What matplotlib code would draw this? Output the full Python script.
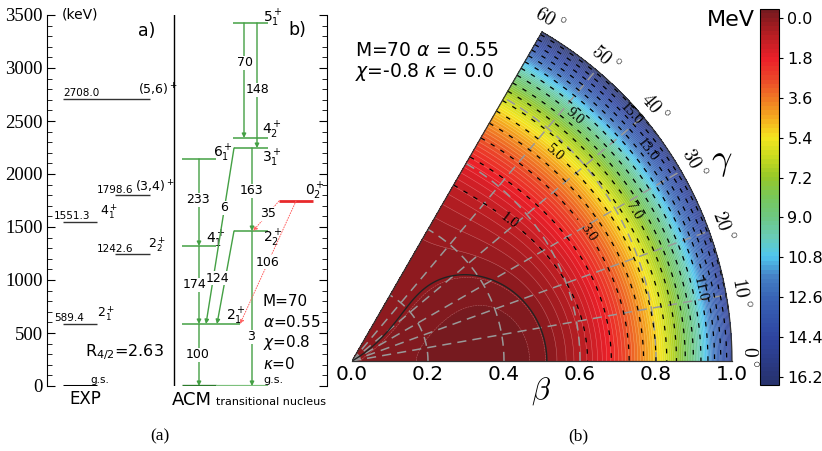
import numpy as np
import matplotlib
matplotlib.use("Agg")
import matplotlib.pyplot as plt
from matplotlib.colors import LinearSegmentedColormap

# ---- (a) level scheme data (keV) ----
exp_energy = [0.0, 589.4, 1242.6, 1551.3, 1798.6, 2708.0]
exp_spin = ["g.s.", r"$2_1^+$", r"$2_2^+$", r"$4_1^+$", r"(3,4)$^+$", r"(5,6)$^+$"]
exp_r42 = 2.63

acm_state = ["gs", "2_1", "4_1", "2_2", "0_2", "6_1", "3_1", "4_2", "5_1"]
acm_energy = [0, 585, 1321, 1462, 1745, 2142, 2245, 2340, 3425]

tr_from = ["5_1", "5_1", "3_1", "2_2", "6_1", "4_1", "2_1", "3_1", "2_2", "0_2", "0_2"]
tr_to = ["4_2", "3_1", "2_2", "gs", "4_1", "2_1", "gs", "2_1", "2_1", "2_2", "2_1"]
tr_be2 = [70, 148, 163, 3, 233, 174, 100, 6, 124, 35, 106]

# ---- (b) ACM potential parameters ----
M, ALPHA, CHI, KAPPA = 70, 0.55, -0.8, 0.0
label_levels = [1, 3, 5, 7, 9, 11, 13, 15]
plain_levels = [2, 4, 6, 8, 10, 12, 14, 16]
cbar_ticks = [0.0, 1.8, 3.6, 5.4, 7.2, 9.0, 10.8, 12.6, 14.4, 16.2]

W, H = 822, 451
fig = plt.figure(figsize=(W / 100, H / 100), dpi=100)


def px_axes(x0, y0, x1, y1):
    return fig.add_axes([x0 / W, 1 - y1 / H, (x1 - x0) / W, (y1 - y0) / H])


def ftext(px, py, s, **kw):
    return fig.text(px / W, 1 - py / H, s, **kw)


GREEN = "#44a044"
RED = "#e8292b"
SERIF = "Liberation Serif"

# ================= panel (a) =================
axa = px_axes(47, 15, 327, 386)
axa.set_xlim(47, 327)
axa.set_ylim(0, 3500)
axa.patch.set_alpha(0)
for s in ("top", "bottom"):
    axa.spines[s].set_visible(False)
axa.set_xticks([])
axa.set_yticks(np.arange(0, 3501, 500))
axa.set_yticks(np.arange(0, 3501, 100), minor=True)
axa.tick_params(axis="y", which="both", direction="in", left=True, right=True, pad=3)
axa.tick_params(axis="y", which="major", length=6)
axa.tick_params(axis="y", which="minor", length=3.5)
for t in axa.get_yticklabels():
    t.set_fontfamily(SERIF)
    t.set_fontsize(13.5)


def ey(py):  # pixel row -> keV
    return (386 - py) * 3500 / 371


axa.plot([174, 174], [0, 3500], color="k", lw=1)

# EXP levels
exp_span = [(63, 97), (63, 97), (115, 150), (63, 97), (115, 150), (63, 150)]
exp_ex = [None, 54, 97, 54, 97, 63]
exp_sx = [90, 97, 148, 100, 135, 138]
for E, sp, (x0, x1), ex, sx in zip(exp_energy, exp_spin, exp_span, exp_ex, exp_sx):
    axa.plot([x0, x1], [E, E], color="k" if E == 0 else "#333333",
             lw=2.2 if E == 0 else 1.0, solid_capstyle="butt")
    if ex is not None:
        axa.text(ex, E + 5, f"{E:.1f}", fontsize=7.5, ha="left", va="bottom")
    axa.text(sx, E + 5, sp, fontsize=7.5 if E == 0 else 9, ha="left", va="bottom")
axa.text(85, ey(352), r"R$_{4/2}$=%.2f" % exp_r42, fontsize=11.5, va="center")
axa.text(62, ey(15), "(keV)", fontsize=10, va="center")
axa.text(138, ey(31), "a)", fontsize=12.5, va="center")
axa.text(288, ey(30), "b)", fontsize=12.5, va="center")
axa.text(85, ey(399), "EXP", fontsize=12, ha="center", va="center")
axa.text(172, ey(405), "ACM", fontsize=13, ha="left", va="baseline")
axa.text(216, ey(405), "transitional nucleus", fontsize=8, ha="left", va="baseline")
for k, s in enumerate(["M=70", r"$\alpha$=0.55", r"$\chi$=0.8", r"$\kappa$=0"]):
    axa.text(263, ey(301 + 21 * k), s, fontsize=11, va="center")

# ACM levels
lev = dict(zip(acm_state, acm_energy))
acm_span = {"gs": (182, 268), "2_1": (182, 240), "4_1": (182, 216), "2_2": (234, 268),
            "0_2": (279, 313), "6_1": (182, 216), "3_1": (234, 268), "4_2": (233, 268),
            "5_1": (233, 268)}
acm_lab = {"gs": (263, 380), "2_1": (226, 316), "4_1": (206, 239), "2_2": (263, 238),
           "0_2": (305, 191), "6_1": (213, 153), "3_1": (262, 158), "4_2": (262, 130),
           "5_1": (263, 18)}
for st in acm_state:
    E = lev[st]
    x0, x1 = acm_span[st]
    if st == "0_2":
        axa.plot([x0, x1], [E, E], color=RED, lw=2, solid_capstyle="butt")
    elif st == "gs":
        axa.plot([x0, 216], [E, E], color="#2a7a2a", lw=2.4, solid_capstyle="butt")
        axa.plot([216, x1], [E, E], color="#7cc07c", lw=1.6, solid_capstyle="butt")
    else:
        axa.plot([x0, x1], [E, E], color=GREEN, lw=1.1, solid_capstyle="butt")
    lx, ly = acm_lab[st]
    if st == "gs":
        axa.text(lx, ey(ly), "g.s.", fontsize=8, va="center")
    else:
        j, n = st.split("_")
        axa.text(lx, ey(ly), r"$%s_%s^+$" % (j, n), fontsize=10, va="center")

# transitions: x at start, x at end, label position (pixels)
tr_geom = [(244, 244, 245, 63), (257, 257, 258, 90), (252, 252, 251, 191),
           (252, 252, 251, 337), (199, 199, 198, 200), (199, 199, 195, 285),
           (199, 199, 198, 355), (234, 206, 224, 208), (234, 217, 217, 278),
           (279, 253, 268, 214), (296, 240, 268, 262)]
for a, b, v, (xs, xe, lx, ly) in zip(tr_from, tr_to, tr_be2, tr_geom):
    red = a == "0_2"
    col = "#ff6060" if red else GREEN
    axa.annotate("", xy=(xe, lev[b]), xytext=(xs, lev[a]),
                 arrowprops=dict(arrowstyle="-|>", color=col, lw=0.7 if red else 1.0,
                                 ls=":" if red else "-", mutation_scale=6,
                                 shrinkA=0, shrinkB=0))
    axa.text(lx, ey(ly), str(v), fontsize=9, ha="center", va="center",
             bbox=dict(facecolor="white", edgecolor="none", pad=0.3))

# ================= panel (b) =================
SC = 380.0  # pixels per unit beta
OX, OY = 352, 361
axb = px_axes(OX, 0, OX + 400, OY)
axb.set_xlim(0, 400 / SC)
axb.set_ylim(0, OY / SC)
axb.axis("off")

beta = np.linspace(0, 1, 400)
gam = np.linspace(0, np.pi / 3, 241)
B, G = np.meshgrid(beta, gam)
V = 0.5 * M * ((1 - 2 * ALPHA) * B ** 2 + ALPHA * B ** 4) + CHI * B * np.cos(3 * G) \
    + KAPPA * np.sin(3 * G) ** 2
X, Y = B * np.cos(G), B * np.sin(G)
vmin, vmax = V.min(), V.max()

anchors = [(-0.5, (0.43, 0.10, 0.12)), (0.0, (0.55, 0.10, 0.12)), (0.9, (0.75, 0.12, 0.14)),
           (1.8, (0.92, 0.12, 0.16)), (2.7, (0.92, 0.27, 0.16)), (3.6, (0.94, 0.47, 0.14)),
           (4.5, (0.96, 0.67, 0.12)), (5.4, (0.96, 0.90, 0.12)), (6.3, (0.78, 0.86, 0.12)),
           (7.2, (0.59, 0.78, 0.16)), (8.1, (0.47, 0.78, 0.35)), (9.0, (0.43, 0.78, 0.51)),
           (9.9, (0.41, 0.80, 0.71)), (10.8, (0.31, 0.78, 0.94)), (11.7, (0.27, 0.51, 0.78)),
           (12.6, (0.22, 0.39, 0.71)), (14.4, (0.18, 0.27, 0.63)), (16.6, (0.15, 0.19, 0.42))]
lo, hi = anchors[0][0], anchors[-1][0]
cmap = LinearSegmentedColormap.from_list(
    "acm", [((v - lo) / (hi - lo), c) for v, c in anchors])

fill_lv = np.linspace(vmin, vmax, 86)
cf = axb.contourf(X, Y, V, levels=fill_lv, cmap=cmap, vmin=lo, vmax=hi)
axb.contour(X, Y, V, levels=fill_lv, colors="white", linewidths=0.35, alpha=0.35)

# polar grid
for d in range(10, 60, 10):
    t = np.radians(d)
    axb.plot([0, np.cos(t)], [0, np.sin(t)], color="#999999", lw=1.1, ls=(0, (6, 4)))
for r in (0.2, 0.4, 0.6, 0.8):
    axb.plot(r * np.cos(gam), r * np.sin(gam), color="#999999", lw=1.1, ls=(0, (6, 4)))

axb.contour(X, Y, V, levels=[0], colors="#222222", linewidths=1.0)
plt.rcParams["lines.dashed_pattern"] = [3.7, 5.5]
axb.contour(X, Y, V, levels=plain_levels, colors="k", linewidths=0.9, linestyles="dashed")
cs = axb.contour(X, Y, V, levels=label_levels, colors="k", linewidths=0.9,
                 linestyles="dashed")
man = [(0.557, 41.7), (0.706, 28.5), (0.77, 45.8), (0.84, 28), (0.88, 47.7),
       (0.93, 11.6), (0.955, 35.6), (0.977, 41.5)]
man_xy = [(r * np.cos(np.radians(g)), r * np.sin(np.radians(g))) for r, g in man]
cl = axb.clabel(cs, fmt="%.1f", fontsize=10.5, inline=True, manual=man_xy)
for t in cl:
    t.set_fontfamily(SERIF)

# sector outline
axb.plot(np.cos(gam), np.sin(gam), color="#333333", lw=0.9, clip_on=False)
axb.plot([0, 0.5], [0, np.sqrt(3) / 2], color="#333333", lw=0.9)
axb.plot([0, 1], [0, 0], color="#333333", lw=0.9, clip_on=False)

for d in range(0, 61, 10):
    t = np.radians(d)
    rr = 1.045 if d == 0 else 1.037
    axb.text(rr * np.cos(t), rr * np.sin(t) + (0.012 if d == 0 else 0),
             r"$%d\,^{\circ}$" % d, rotation=d - 90, rotation_mode="anchor",
             ha="center", va="center", fontsize=14, math_fontfamily="cm", clip_on=False)
ftext(722, 162, r"$\gamma$", fontsize=26, math_fontfamily="cm", ha="center", va="center")
ftext(541, 391, r"$\beta$", fontsize=22, math_fontfamily="cm", ha="center", va="center")
for v in np.arange(0, 1.01, 0.2):
    ftext(OX + SC * v, 375, f"{v:.1f}", fontsize=14.5, ha="center", va="center")

ftext(355, 50, r"M=70 $\alpha$ = 0.55", fontsize=13.5, va="center")
ftext(355, 72, r"$\chi$=-0.8 $\kappa$ = 0.0", fontsize=13.5, va="center")

# colorbar: 0.0 at row 20, 16.2 at row 376
ppm = (376 - 20) / 16.2
cax = px_axes(760, 20 + vmin * ppm - 2, 779, 20 + vmax * ppm + 1)
cb = fig.colorbar(cf, cax=cax, ticks=cbar_ticks)
cb.ax.invert_yaxis()
cb.ax.set_yticklabels([f"{t:.1f}" for t in cbar_ticks])
cb.ax.tick_params(labelsize=11.5, length=3, width=0.8, pad=3)
cb.outline.set_linewidth(0.8)
ftext(755, 20, "MeV", fontsize=16, ha="right", va="center")

ftext(160, 436, "(a)", fontsize=12.5, family=SERIF, ha="center", va="center")
ftext(578, 436, "(b)", fontsize=12.5, family=SERIF, ha="center", va="center")

fig.savefig("out.png", dpi=100)
